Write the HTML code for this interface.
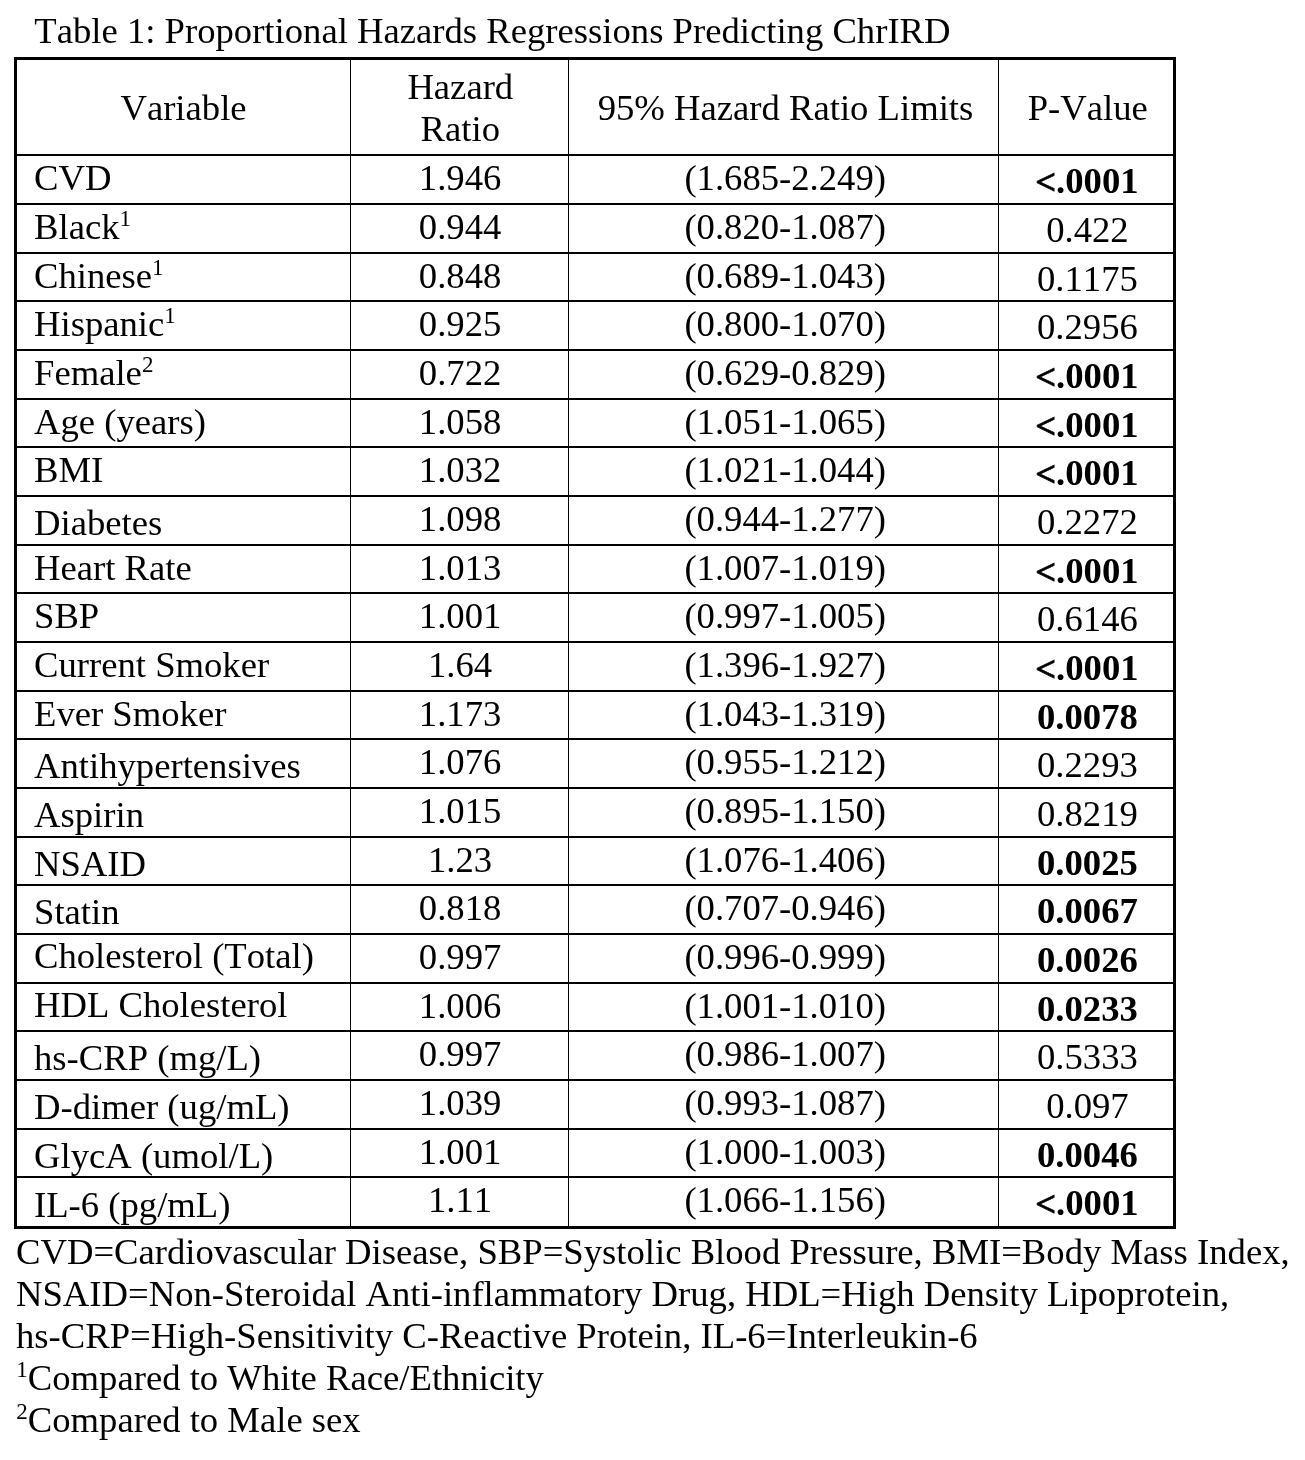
<!DOCTYPE html>
<html><head><meta charset="utf-8"><title>Table 1</title>
<style>
html,body{margin:0;padding:0;background:#fff;}
body{font-kerning:none;width:1305px;height:1460px;position:relative;overflow:hidden;font-family:"Liberation Serif",serif;color:#000;}
.l{position:absolute;background:#000;}
.t{position:absolute;white-space:nowrap;font-size:36.67px;line-height:41px;height:41px;font-family:"Liberation Serif",serif;}
.sup{font-size:23px;position:relative;top:-13.3px;line-height:0;}
.lt{-webkit-text-stroke:0.7px #000;position:relative;top:1px;}
b{font-weight:bold;}
#w{position:absolute;left:0;top:0;width:1305px;height:1460px;will-change:transform;}
</style></head><body><div id="w">
<div class="l" style="left:14px;top:57px;width:1162px;height:3px"></div>
<div class="l" style="left:14px;top:1226px;width:1162px;height:3px"></div>
<div class="l" style="left:14px;top:57px;width:3px;height:1172px"></div>
<div class="l" style="left:1173px;top:57px;width:3px;height:1172px"></div>
<div class="l" style="left:350px;top:57px;width:1px;height:1170px"></div>
<div class="l" style="left:568px;top:57px;width:1px;height:1170px"></div>
<div class="l" style="left:998px;top:57px;width:1px;height:1170px"></div>
<div class="l" style="left:14px;top:154px;width:1160px;height:2px"></div>
<div class="l" style="left:14px;top:203px;width:1160px;height:2px"></div>
<div class="l" style="left:14px;top:252px;width:1160px;height:2px"></div>
<div class="l" style="left:14px;top:300px;width:1160px;height:2px"></div>
<div class="l" style="left:14px;top:349px;width:1160px;height:2px"></div>
<div class="l" style="left:14px;top:398px;width:1160px;height:2px"></div>
<div class="l" style="left:14px;top:446px;width:1160px;height:2px"></div>
<div class="l" style="left:14px;top:495px;width:1160px;height:2px"></div>
<div class="l" style="left:14px;top:544px;width:1160px;height:2px"></div>
<div class="l" style="left:14px;top:592px;width:1160px;height:2px"></div>
<div class="l" style="left:14px;top:641px;width:1160px;height:2px"></div>
<div class="l" style="left:14px;top:690px;width:1160px;height:2px"></div>
<div class="l" style="left:14px;top:738px;width:1160px;height:2px"></div>
<div class="l" style="left:14px;top:787px;width:1160px;height:2px"></div>
<div class="l" style="left:14px;top:836px;width:1160px;height:2px"></div>
<div class="l" style="left:14px;top:884px;width:1160px;height:2px"></div>
<div class="l" style="left:14px;top:933px;width:1160px;height:2px"></div>
<div class="l" style="left:14px;top:982px;width:1160px;height:2px"></div>
<div class="l" style="left:14px;top:1030px;width:1160px;height:2px"></div>
<div class="l" style="left:14px;top:1079px;width:1160px;height:2px"></div>
<div class="l" style="left:14px;top:1128px;width:1160px;height:2px"></div>
<div class="l" style="left:14px;top:1176px;width:1160px;height:2px"></div>
<div class="t " style="left:34.3px;top:10px;">Table 1: Proportional Hazards Regressions Predicting ChrIRD</div>
<div class="t " style="left:17px;top:87px;width:333px;text-align:center;">Variable</div>
<div class="t " style="left:351.8px;top:66px;width:217px;text-align:center;">Hazard</div>
<div class="t " style="left:351.8px;top:108px;width:217px;text-align:center;">Ratio</div>
<div class="t " style="left:571.0px;top:87px;width:429px;text-align:center;">95% Hazard Ratio Limits</div>
<div class="t " style="left:1000.8px;top:87px;width:174px;text-align:center;">P-Value</div>
<div class="t " style="left:34.0px;top:157px;">CVD</div>
<div class="t " style="left:351.6px;top:157px;width:217px;text-align:center;">1.946</div>
<div class="t " style="left:570.7px;top:157px;width:429px;text-align:center;">(1.685-2.249)</div>
<div class="t " style="left:999.9px;top:160px;width:174px;text-align:center;"><b><span class="lt">&lt;</span>.0001</b></div>
<div class="t " style="left:34.0px;top:206px;">Black<span class="sup">1</span></div>
<div class="t " style="left:351.6px;top:206px;width:217px;text-align:center;">0.944</div>
<div class="t " style="left:570.7px;top:206px;width:429px;text-align:center;">(0.820-1.087)</div>
<div class="t " style="left:1000.4px;top:209px;width:174px;text-align:center;">0.422</div>
<div class="t " style="left:34.0px;top:255px;">Chinese<span class="sup">1</span></div>
<div class="t " style="left:351.6px;top:255px;width:217px;text-align:center;">0.848</div>
<div class="t " style="left:570.7px;top:255px;width:429px;text-align:center;">(0.689-1.043)</div>
<div class="t " style="left:1000.4px;top:258px;width:174px;text-align:center;">0.1175</div>
<div class="t " style="left:34.0px;top:303px;">Hispanic<span class="sup">1</span></div>
<div class="t " style="left:351.6px;top:303px;width:217px;text-align:center;">0.925</div>
<div class="t " style="left:570.7px;top:303px;width:429px;text-align:center;">(0.800-1.070)</div>
<div class="t " style="left:1000.4px;top:306px;width:174px;text-align:center;">0.2956</div>
<div class="t " style="left:34.0px;top:352px;">Female<span class="sup">2</span></div>
<div class="t " style="left:351.6px;top:352px;width:217px;text-align:center;">0.722</div>
<div class="t " style="left:570.7px;top:352px;width:429px;text-align:center;">(0.629-0.829)</div>
<div class="t " style="left:999.9px;top:355px;width:174px;text-align:center;"><b><span class="lt">&lt;</span>.0001</b></div>
<div class="t " style="left:34.0px;top:401px;">Age (years)</div>
<div class="t " style="left:351.6px;top:401px;width:217px;text-align:center;">1.058</div>
<div class="t " style="left:570.7px;top:401px;width:429px;text-align:center;">(1.051-1.065)</div>
<div class="t " style="left:999.9px;top:404px;width:174px;text-align:center;"><b><span class="lt">&lt;</span>.0001</b></div>
<div class="t " style="left:34.0px;top:449px;">BMI</div>
<div class="t " style="left:351.6px;top:449px;width:217px;text-align:center;">1.032</div>
<div class="t " style="left:570.7px;top:449px;width:429px;text-align:center;">(1.021-1.044)</div>
<div class="t " style="left:999.9px;top:452px;width:174px;text-align:center;"><b><span class="lt">&lt;</span>.0001</b></div>
<div class="t " style="left:34.0px;top:502px;">Diabetes</div>
<div class="t " style="left:351.6px;top:498px;width:217px;text-align:center;">1.098</div>
<div class="t " style="left:570.7px;top:498px;width:429px;text-align:center;">(0.944-1.277)</div>
<div class="t " style="left:1000.4px;top:501px;width:174px;text-align:center;">0.2272</div>
<div class="t " style="left:34.0px;top:547px;">Heart Rate</div>
<div class="t " style="left:351.6px;top:547px;width:217px;text-align:center;">1.013</div>
<div class="t " style="left:570.7px;top:547px;width:429px;text-align:center;">(1.007-1.019)</div>
<div class="t " style="left:999.9px;top:550px;width:174px;text-align:center;"><b><span class="lt">&lt;</span>.0001</b></div>
<div class="t " style="left:34.0px;top:595px;">SBP</div>
<div class="t " style="left:351.6px;top:595px;width:217px;text-align:center;">1.001</div>
<div class="t " style="left:570.7px;top:595px;width:429px;text-align:center;">(0.997-1.005)</div>
<div class="t " style="left:1000.4px;top:598px;width:174px;text-align:center;">0.6146</div>
<div class="t " style="left:34.0px;top:644px;">Current Smoker</div>
<div class="t " style="left:351.6px;top:644px;width:217px;text-align:center;">1.64</div>
<div class="t " style="left:570.7px;top:644px;width:429px;text-align:center;">(1.396-1.927)</div>
<div class="t " style="left:999.9px;top:647px;width:174px;text-align:center;"><b><span class="lt">&lt;</span>.0001</b></div>
<div class="t " style="left:34.0px;top:693px;">Ever Smoker</div>
<div class="t " style="left:351.6px;top:693px;width:217px;text-align:center;">1.173</div>
<div class="t " style="left:570.7px;top:693px;width:429px;text-align:center;">(1.043-1.319)</div>
<div class="t " style="left:1000.4px;top:696px;width:174px;text-align:center;"><b>0.0078</b></div>
<div class="t " style="left:34.0px;top:745px;">Antihypertensives</div>
<div class="t " style="left:351.6px;top:741px;width:217px;text-align:center;">1.076</div>
<div class="t " style="left:570.7px;top:741px;width:429px;text-align:center;">(0.955-1.212)</div>
<div class="t " style="left:1000.4px;top:744px;width:174px;text-align:center;">0.2293</div>
<div class="t " style="left:34.0px;top:794px;">Aspirin</div>
<div class="t " style="left:351.6px;top:790px;width:217px;text-align:center;">1.015</div>
<div class="t " style="left:570.7px;top:790px;width:429px;text-align:center;">(0.895-1.150)</div>
<div class="t " style="left:1000.4px;top:793px;width:174px;text-align:center;">0.8219</div>
<div class="t " style="left:34.0px;top:843px;">NSAID</div>
<div class="t " style="left:351.6px;top:839px;width:217px;text-align:center;">1.23</div>
<div class="t " style="left:570.7px;top:839px;width:429px;text-align:center;">(1.076-1.406)</div>
<div class="t " style="left:1000.4px;top:842px;width:174px;text-align:center;"><b>0.0025</b></div>
<div class="t " style="left:34.0px;top:891px;">Statin</div>
<div class="t " style="left:351.6px;top:887px;width:217px;text-align:center;">0.818</div>
<div class="t " style="left:570.7px;top:887px;width:429px;text-align:center;">(0.707-0.946)</div>
<div class="t " style="left:1000.4px;top:890px;width:174px;text-align:center;"><b>0.0067</b></div>
<div class="t " style="left:34.0px;top:935px;">Cholesterol (Total)</div>
<div class="t " style="left:351.6px;top:936px;width:217px;text-align:center;">0.997</div>
<div class="t " style="left:570.7px;top:936px;width:429px;text-align:center;">(0.996-0.999)</div>
<div class="t " style="left:1000.4px;top:939px;width:174px;text-align:center;"><b>0.0026</b></div>
<div class="t " style="left:34.0px;top:984px;">HDL Cholesterol</div>
<div class="t " style="left:351.6px;top:985px;width:217px;text-align:center;">1.006</div>
<div class="t " style="left:570.7px;top:985px;width:429px;text-align:center;">(1.001-1.010)</div>
<div class="t " style="left:1000.4px;top:988px;width:174px;text-align:center;"><b>0.0233</b></div>
<div class="t " style="left:34.0px;top:1037px;">hs-CRP (mg/L)</div>
<div class="t " style="left:351.6px;top:1033px;width:217px;text-align:center;">0.997</div>
<div class="t " style="left:570.7px;top:1033px;width:429px;text-align:center;">(0.986-1.007)</div>
<div class="t " style="left:1000.4px;top:1036px;width:174px;text-align:center;">0.5333</div>
<div class="t " style="left:34.0px;top:1086px;">D-dimer (ug/mL)</div>
<div class="t " style="left:351.6px;top:1082px;width:217px;text-align:center;">1.039</div>
<div class="t " style="left:570.7px;top:1082px;width:429px;text-align:center;">(0.993-1.087)</div>
<div class="t " style="left:1000.4px;top:1085px;width:174px;text-align:center;">0.097</div>
<div class="t " style="left:34.0px;top:1135px;">GlycA (umol/L)</div>
<div class="t " style="left:351.6px;top:1131px;width:217px;text-align:center;">1.001</div>
<div class="t " style="left:570.7px;top:1131px;width:429px;text-align:center;">(1.000-1.003)</div>
<div class="t " style="left:1000.4px;top:1134px;width:174px;text-align:center;"><b>0.0046</b></div>
<div class="t " style="left:34.0px;top:1184px;">IL-6 (pg/mL)</div>
<div class="t " style="left:351.6px;top:1179px;width:217px;text-align:center;">1.11</div>
<div class="t " style="left:570.7px;top:1179px;width:429px;text-align:center;">(1.066-1.156)</div>
<div class="t " style="left:999.9px;top:1182px;width:174px;text-align:center;"><b><span class="lt">&lt;</span>.0001</b></div>
<div class="t " style="left:16.0px;top:1231px;">CVD=Cardiovascular Disease, SBP=Systolic Blood Pressure, BMI=Body Mass Index,</div>
<div class="t " style="left:16.0px;top:1273px;">NSAID=Non-Steroidal Anti-inflammatory Drug, HDL=High Density Lipoprotein,</div>
<div class="t " style="left:16.0px;top:1315px;">hs-CRP=High-Sensitivity C-Reactive Protein, IL-6=Interleukin-6</div>
<div class="t " style="left:16.3px;top:1357px;"><span class="sup">1</span>Compared to White Race/Ethnicity</div>
<div class="t " style="left:16.3px;top:1399px;"><span class="sup">2</span>Compared to Male sex</div>
</div></body></html>
